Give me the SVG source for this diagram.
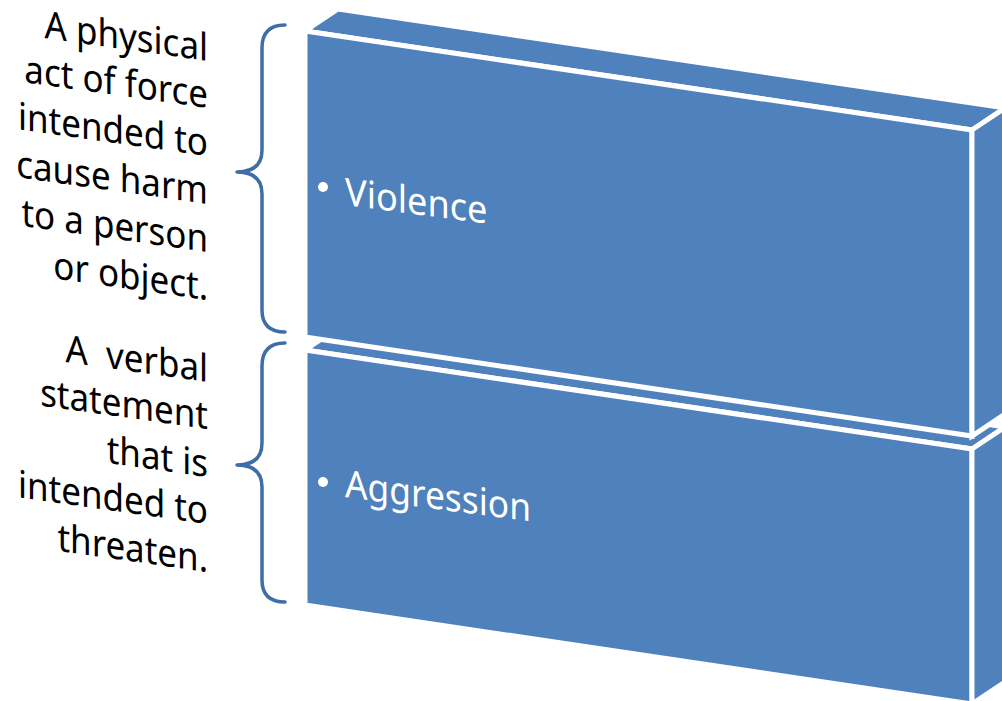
<svg xmlns="http://www.w3.org/2000/svg" width="1002" height="701" viewBox="0 0 1002 701">
  <style>
    .face { fill: #4F81BD; stroke: #FFFFFF; stroke-width: 5; stroke-linejoin: miter; }
    .brace { fill: none; stroke: #3F6EA6; stroke-width: 3.5; stroke-linecap: round; stroke-linejoin: round; }
    .note { font-family: "Noto Sans", "Open Sans", sans-serif; font-size: 38px; fill: #000000; text-anchor: end; }
    .label { font-family: "Noto Sans", "Open Sans", sans-serif; font-size: 38px; fill: #FFFFFF; }
  </style>
  <rect width="1002" height="701" fill="#FFFFFF"/>

  <!-- lower block: Aggression -->
  <g id="block-aggression">
    <polygon class="face" points="305,350 338,328 1005,427 972,449"/>
    <polygon class="face" points="305,350 972,449 972,704 305,605"/>
    <polygon class="face" points="972,449 1005,427 1005,682 972,704"/>
    <circle cx="323" cy="482" r="5" fill="#FFFFFF"/>
    <text class="label" transform="translate(345,497) skewY(7.5) scale(0.93,1)">Aggression</text>
  </g>

  <!-- upper block: Violence -->
  <g id="block-violence">
    <polygon class="face" points="305,31 338,9 1005,108 972,130"/>
    <polygon class="face" points="305,31 972,130 972,436 305,337"/>
    <polygon class="face" points="972,130 1005,108 1005,414 972,436"/>
    <circle cx="323" cy="187" r="5" fill="#FFFFFF"/>
    <text class="label" transform="translate(345,205) skewY(7.5) scale(0.95,1)">Violence</text>
  </g>

  <!-- braces linking descriptions to blocks -->
  <g id="connectors">
    <path class="brace" d="M285,25 Q262,25 262,48 L262,150 Q262,172 237,172 Q262,172 262,194 L262,310 Q262,332 285,332"/>
    <path class="brace" d="M285,343 Q262,343 262,366 L262,443 Q262,465 237,465 Q262,465 262,487 L262,580 Q262,602 285,602"/>
  </g>

  <!-- description for Violence -->
  <g id="desc-violence">
    <text class="note" transform="translate(208,61) skewY(8) scale(0.92,1)">A physical</text>
    <text class="note" transform="translate(208,108) skewY(8) scale(0.92,1)">act of force</text>
    <text class="note" transform="translate(208,156) skewY(8) scale(0.92,1)">intended to</text>
    <text class="note" transform="translate(208,204) skewY(8) scale(0.92,1)">cause harm</text>
    <text class="note" transform="translate(208,252) skewY(8) scale(0.92,1)">to a person</text>
    <text class="note" transform="translate(208,300) skewY(8) scale(0.92,1)">or object.</text>
  </g>

  <!-- description for Aggression -->
  <g id="desc-aggression">
    <text class="note" transform="translate(208,382) skewY(8) scale(0.92,1)" xml:space="preserve">A  verbal</text>
    <text class="note" transform="translate(208,429) skewY(8) scale(0.92,1)">statement</text>
    <text class="note" transform="translate(208,477) skewY(8) scale(0.92,1)">that is</text>
    <text class="note" transform="translate(208,524) skewY(8) scale(0.92,1)">intended to</text>
    <text class="note" transform="translate(208,572) skewY(8) scale(0.92,1)">threaten.</text>
  </g>
</svg>
